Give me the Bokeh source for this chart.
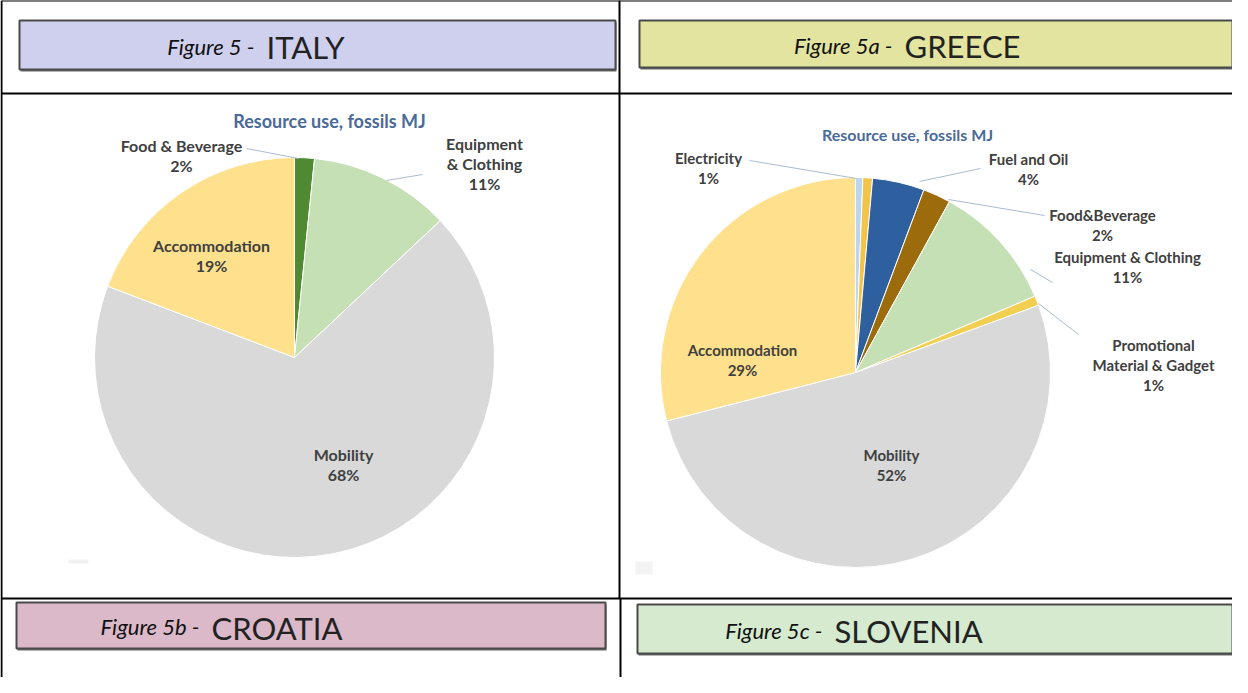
from bokeh.plotting import figure
from bokeh.models import Range1d
from bokeh.embed import file_html
from bokeh.resources import INLINE
from bokeh.core.properties import value
import numpy as np

# ---------------- data ----------------
italy_categories = ["Food & Beverage", "Equipment & Clothing", "Mobility", "Accommodation"]
italy_values = [1.6, 11.4, 67.8, 19.2]
italy_label_lines = [["Food & Beverage"], ["Equipment", "& Clothing"], ["Mobility"], ["Accommodation"]]

greece_categories = ["Electricity", "", "Fuel and Oil", "Food&Beverage", "Equipment & Clothing",
                     "Promotional Material & Gadget", "Mobility", "Accommodation"]
greece_values = [0.6, 0.8, 4.3, 2.3, 10.6, 0.8, 51.6, 29.0]
greece_label_lines = [["Electricity"], [], ["Fuel and Oil"], ["Food&Beverage"], ["Equipment & Clothing"],
                      ["Promotional", "Material & Gadget"], ["Mobility"], ["Accommodation"]]

chart_title = "Resource use, fossils MJ"
banner_prefix = ["Figure 5 -", "Figure 5a -", "Figure 5b -", "Figure 5c -"]
banner_country = ["ITALY", "GREECE", "CROATIA", "SLOVENIA"]

# ---------------- layout / styles ----------------
W, H = 1232, 677
def X(x): return x - 8
def Y(y): return 685 - y

italy_colors = ["#4f8a32", "#c5e0b4", "#d9d9d9", "#ffe08c"]
greece_colors = ["#bcd6ee", "#f3c44a", "#2e5f9e", "#9c6b0c", "#c5e0b4", "#f2cf50", "#d9d9d9", "#ffe08c"]

p = figure(width=W, height=H, x_range=Range1d(0, W), y_range=Range1d(0, H),
           output_backend="svg", toolbar_location=None, min_border=0)
p.axis.visible = False
p.grid.visible = False
p.outline_line_color = None
p.background_fill_color = "white"
p.border_fill_color = "white"

FONT = value("Lato")

# ---- banners ----
banners = [  # left, right, top, bottom (image px)
    (27, 623, 28, 77),
    (647, 1240, 28, 75),
    (24, 613, 610, 656),
    (645, 1240, 612, 661),
]
banner_fill = ["#cfd0ee", "#e2e4a0", "#dbb9c9", "#d6ead0"]
prefix_right = [262, 900, 207, 830]
country_gap = 12
for i, (l, r, t, b) in enumerate(banners):
    p.quad(left=[X(l) + 1], right=[X(r) + 1], top=[Y(t) - 2], bottom=[Y(b) - 2],
           fill_color="#6a6a6a", line_color=None)
    p.quad(left=[X(l)], right=[X(r)], top=[Y(t)], bottom=[Y(b)],
           fill_color=banner_fill[i], line_color="#4a4a4a", line_width=2)
    cy = (t + b) / 2 + 1
    p.text(x=[X(prefix_right[i])], y=[Y(cy)], text=[banner_prefix[i]], text_font=FONT,
           text_font_style="italic", text_font_size="22px", text_align="right",
           text_baseline="middle", text_color="#111111")
    p.text(x=[X(prefix_right[i] + country_gap)], y=[Y(cy + 1)], text=[banner_country[i]], text_font=FONT,
           text_font_size="31px", text_align="left", text_baseline="middle", text_color="#222222")

# ---- table lines ----
LC = "black"
p.segment(x0=[X(9)], y0=[Y(8)], x1=[X(1240)], y1=[Y(8)], line_color=LC, line_width=2)
p.segment(x0=[X(9)], y0=[Y(8)], x1=[X(9)], y1=[Y(693)], line_color=LC, line_width=2)
p.segment(x0=[X(9)], y0=[Y(101)], x1=[X(1240)], y1=[Y(101)], line_color=LC, line_width=2)
p.segment(x0=[X(9)], y0=[Y(606)], x1=[X(1240)], y1=[Y(606)], line_color=LC, line_width=2)
p.segment(x0=[X(627)], y0=[Y(8)], x1=[X(627)], y1=[Y(606)], line_color=LC, line_width=2)
p.segment(x0=[X(628)], y0=[Y(606)], x1=[X(628)], y1=[Y(693)], line_color=LC, line_width=2)

# very faint remnants of the pasted chart pictures' lower-left corners
p.quad(left=[X(76)], right=[X(96)], top=[Y(567)], bottom=[Y(571)], fill_color="#f1f1f1", line_color=None)
p.quad(left=[X(643)], right=[X(660)], top=[Y(569)], bottom=[Y(582)], fill_color="#f3f3f3", line_color=None)


def draw_pie(values, colors, cx, cy, r):
    vals = np.array(values, dtype=float)
    frac = vals / vals.sum()
    cum = np.concatenate([[0], np.cumsum(frac)])
    start = np.pi / 2 - 2 * np.pi * cum[:-1]
    end = np.pi / 2 - 2 * np.pi * cum[1:]
    p.wedge(x=[X(cx)] * len(vals), y=[Y(cy)] * len(vals), radius=r,
            start_angle=list(start), end_angle=list(end), direction="clock",
            fill_color=colors, line_color="white", line_width=1)


def draw_labels(label_lines, values, positions, size, step, color="#404040"):
    for lines, v, pos in zip(label_lines, values, positions):
        if not lines or pos is None:
            continue
        x, y0 = pos
        rows = list(lines) + [f"{round(v):.0f}%"]
        for k, txt in enumerate(rows):
            p.text(x=[X(x)], y=[Y(y0 + step * k)], text=[txt], text_font=FONT,
                   text_font_size=size, text_align="center", text_baseline="middle",
                   text_color=color, text_font_style="bold")


LEADER = "#a9bccf"

# ---- Italy ----
draw_pie(italy_values, italy_colors, 302, 365, 200)
p.text(x=[X(337)], y=[Y(128)], text=[chart_title], text_font=FONT, text_font_size="18px",
       text_font_style="bold", text_align="center", text_baseline="middle", text_color="#4a6a98")
italy_pos = [(189, 153), (492, 151), (351, 462), (219, 253)]
draw_labels(italy_label_lines, italy_values, italy_pos, "16px", 20)
p.segment(x0=[X(254)], y0=[Y(156)], x1=[X(306)], y1=[Y(166)], line_color=LEADER, line_width=1)
p.segment(x0=[X(430)], y0=[Y(182)], x1=[X(394)], y1=[Y(188)], line_color=LEADER, line_width=1)

# ---- Greece ----
draw_pie(greece_values, greece_colors, 863, 380, 195)
p.text(x=[X(915)], y=[Y(142)], text=[chart_title], text_font=FONT, text_font_size="16px",
       text_font_style="bold", text_align="center", text_baseline="middle", text_color="#4a6a98")
greece_pos = [(716, 165), None, (1036, 166), (1110, 222), (1135, 264), (1161, 352), (899, 462), (750, 357)]
draw_labels(greece_label_lines, greece_values, greece_pos, "15px", 20)
leaders = [((757, 168), (864, 186)), ((988, 176), (927, 189)), ((1052, 223), (956, 207)),
           ((1060, 290), (1038, 277)), ((1086, 342), (1046, 311))]
for (a, b) in leaders:
    p.segment(x0=[X(a[0])], y0=[Y(a[1])], x1=[X(b[0])], y1=[Y(b[1])], line_color=LEADER, line_width=1)

open("out.html", "w").write(file_html(p, INLINE))
